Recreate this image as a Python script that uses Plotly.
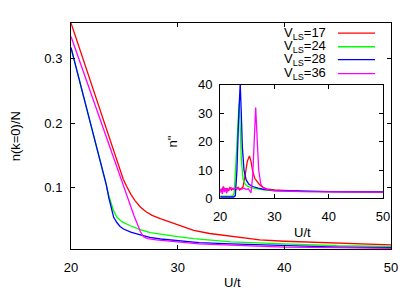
import plotly.graph_objects as go

# ---- main panel: n(k=0)/N vs U/t ----
u_17 = [20, 21, 22, 23, 24, 24.6, 24.9, 25.25, 25.6, 26.0, 26.5, 27.0, 27.6, 28.37, 30, 31.5, 33, 35, 37.7, 40, 43, 46, 50]
n_17 = [0.355, 0.305, 0.255, 0.205, 0.155, 0.125, 0.113, 0.101, 0.090, 0.080, 0.070, 0.063, 0.057, 0.052, 0.042, 0.034, 0.029, 0.025, 0.019, 0.017, 0.015, 0.013, 0.0115]

u_24 = [20, 21, 22, 22.5, 23, 23.3, 23.55, 23.8, 24.0, 24.31, 24.8, 25.56, 26.5, 27.43, 28.37, 30, 31.5, 35, 40, 45, 50]
n_24 = [0.317, 0.254, 0.190, 0.159, 0.126, 0.105, 0.087, 0.073, 0.064, 0.054, 0.047, 0.041, 0.035, 0.0305, 0.028, 0.024, 0.021, 0.016, 0.013, 0.010, 0.009]

u_28 = [20, 21, 22, 22.5, 23, 23.3, 23.55, 23.8, 24.0, 24.3, 24.6, 24.93, 25.6, 26.5, 27.4, 28.4, 30, 32, 35, 40, 45, 50]
n_28 = [0.317, 0.254, 0.190, 0.159, 0.126, 0.105, 0.084, 0.065, 0.054, 0.046, 0.040, 0.036, 0.031, 0.027, 0.023, 0.0205, 0.018, 0.015, 0.013, 0.010, 0.008, 0.007]

u_36 = [20, 21, 22, 23, 24, 25, 25.9, 26.5, 26.8, 27.2, 28, 30, 32, 35, 40, 45, 50]
n_36 = [0.334, 0.287, 0.239, 0.191, 0.143, 0.096, 0.057, 0.032, 0.024, 0.021, 0.019, 0.016, 0.013, 0.011, 0.008, 0.007, 0.006]

# ---- inset: n'' vs U/t ----
ui_17 = [20, 20.3, 20.6, 20.9, 21.2, 21.5, 21.8, 22.1, 22.4, 22.7, 23.0, 23.3, 23.6, 23.9, 24.2, 24.6, 25.0, 25.4, 25.7, 26.0, 26.4, 26.8, 27.2, 27.8, 28.6, 30, 32, 35, 40, 45, 50]
ni_17 = [3.2, 2.5, 4.2, 2.8, 3.5, 2.6, 3.8, 3.0, 3.6, 2.7, 3.3, 3.9, 3.0, 3.4, 4.0, 8.0, 13.0, 15.0, 13.0, 9.5, 7.0, 6.0, 5.0, 4.0, 3.4, 3.0, 2.7, 2.5, 2.4, 2.3, 2.2]

ui_24 = [20, 22.3, 22.6, 22.9, 23.2, 23.5, 23.7, 23.9, 24.2, 24.6, 25, 26, 28, 30, 35, 50]
ni_24 = [0.8, 0.8, 2.0, 12.0, 25.0, 33.5, 25.0, 14.0, 7.0, 5.0, 4.3, 3.6, 3.0, 2.7, 2.5, 2.3]

ui_28 = [20, 22.5, 22.8, 23.1, 23.4, 23.7, 23.9, 24.1, 24.4, 24.8, 25.3, 26, 27, 28, 30, 35, 40, 50]
ni_28 = [0.5, 0.5, 1.0, 10.0, 28.0, 40.5, 30.0, 18.0, 10.0, 6.5, 5.0, 4.2, 3.6, 3.2, 2.8, 2.5, 2.4, 2.3]

ui_36 = [20, 20.2, 20.4, 20.6, 20.8, 21.0, 21.2, 21.4, 21.7, 22.0, 22.4, 22.8, 23.2, 23.6, 24.0, 24.4, 24.8, 25.2, 25.5, 25.7, 26.0, 26.3, 26.55, 26.8, 27.1, 27.5, 28, 29, 30, 35, 40, 50]
ni_36 = [2.0, 3.5, 1.5, 4.0, 2.2, 3.6, 1.8, 3.4, 3.0, 3.8, 3.2, 3.6, 3.4, 3.5, 3.3, 3.6, 3.2, 3.4, 2.5, 2.0, 8.0, 22.0, 32.0, 22.0, 10.0, 5.0, 3.5, 3.0, 2.7, 2.4, 2.3, 2.2]

labels = ["V<sub>LS</sub>=17", "V<sub>LS</sub>=24", "V<sub>LS</sub>=28", "V<sub>LS</sub>=36"]
colors = ["#ff0000", "#00ff00", "#0000ff", "#ff00ff"]

main_series = [(u_17, n_17), (u_24, n_24), (u_28, n_28), (u_36, n_36)]
inset_series = [(ui_17, ni_17), (ui_24, ni_24), (ui_28, ni_28), (ui_36, ni_36)]

FONT = "Liberation Sans, Arial, sans-serif"
fig = go.Figure()
for (x, y), c, lab in zip(main_series, colors, labels):
    fig.add_trace(go.Scatter(x=x, y=y, mode="lines", line=dict(color=c, width=1.3),
                             name=lab, showlegend=False, xaxis="x", yaxis="y"))
for (x, y), c, lab in zip(inset_series, colors, labels):
    fig.add_trace(go.Scatter(x=x, y=y, mode="lines", line=dict(color=c, width=1.3),
                             name=lab, showlegend=False, xaxis="x2", yaxis="y2"))

axis_common = dict(showgrid=False, zeroline=False, showline=True, linecolor="black", linewidth=1,
                   mirror="ticks", ticks="inside", ticklen=4, tickcolor="black",
                   tickfont=dict(family=FONT, size=13, color="black"))

fig.update_layout(
    width=415, height=291,
    margin=dict(l=63, r=32, t=8, b=50),
    paper_bgcolor="white", plot_bgcolor="white",
    font=dict(family=FONT, size=13, color="black"),
    xaxis=dict(range=[20, 50], tickvals=[20, 30, 40, 50], domain=[0, 1],
               ticklabelstandoff=6, **axis_common),
    yaxis=dict(range=[0.005, 0.355], tickvals=[0.1, 0.2, 0.3], domain=[0, 1],
               ticklabelstandoff=5, **axis_common),
    xaxis2=dict(range=[20, 50], tickvals=[20, 30, 40, 50], domain=[0.466, 0.975], anchor="y2",
                ticklabelstandoff=6, **axis_common),
    yaxis2=dict(range=[0, 40], tickvals=[0, 10, 20, 30, 40], domain=[0.2238, 0.726], anchor="x2",
                ticklabelstandoff=4, **axis_common),
)

# axis titles placed as annotations
titles = [
    ("U/t", 0.5036, -0.1476, 0),
    ("n(k=0)/N", -0.174, 0.5, -90),
    ('n"', 0.316, 0.476, -90),
    ("U/t", 0.7221, 0.0731, 0),
]
for txt, xx, yy, ang in titles:
    fig.add_annotation(x=xx, y=yy, xref="paper", yref="paper", text=txt, showarrow=False,
                       textangle=ang, xanchor="center", yanchor="middle",
                       font=dict(family=FONT, size=13, color="black"))

# gnuplot-style key: text right-aligned, line sample on the right
ys = [0.955, 0.895, 0.838, 0.776]
for lab, c, yy in zip(labels, colors, ys):
    fig.add_annotation(x=0.803, y=yy, xref="paper", yref="paper", text=lab, showarrow=False,
                       xanchor="right", yanchor="middle", font=dict(family=FONT, size=13, color="black"))
    fig.add_shape(type="line", xref="paper", yref="paper", x0=0.834, x1=0.950, y0=yy, y1=yy,
                  line=dict(color=c, width=1.3))

fig.write_html("out.html")
